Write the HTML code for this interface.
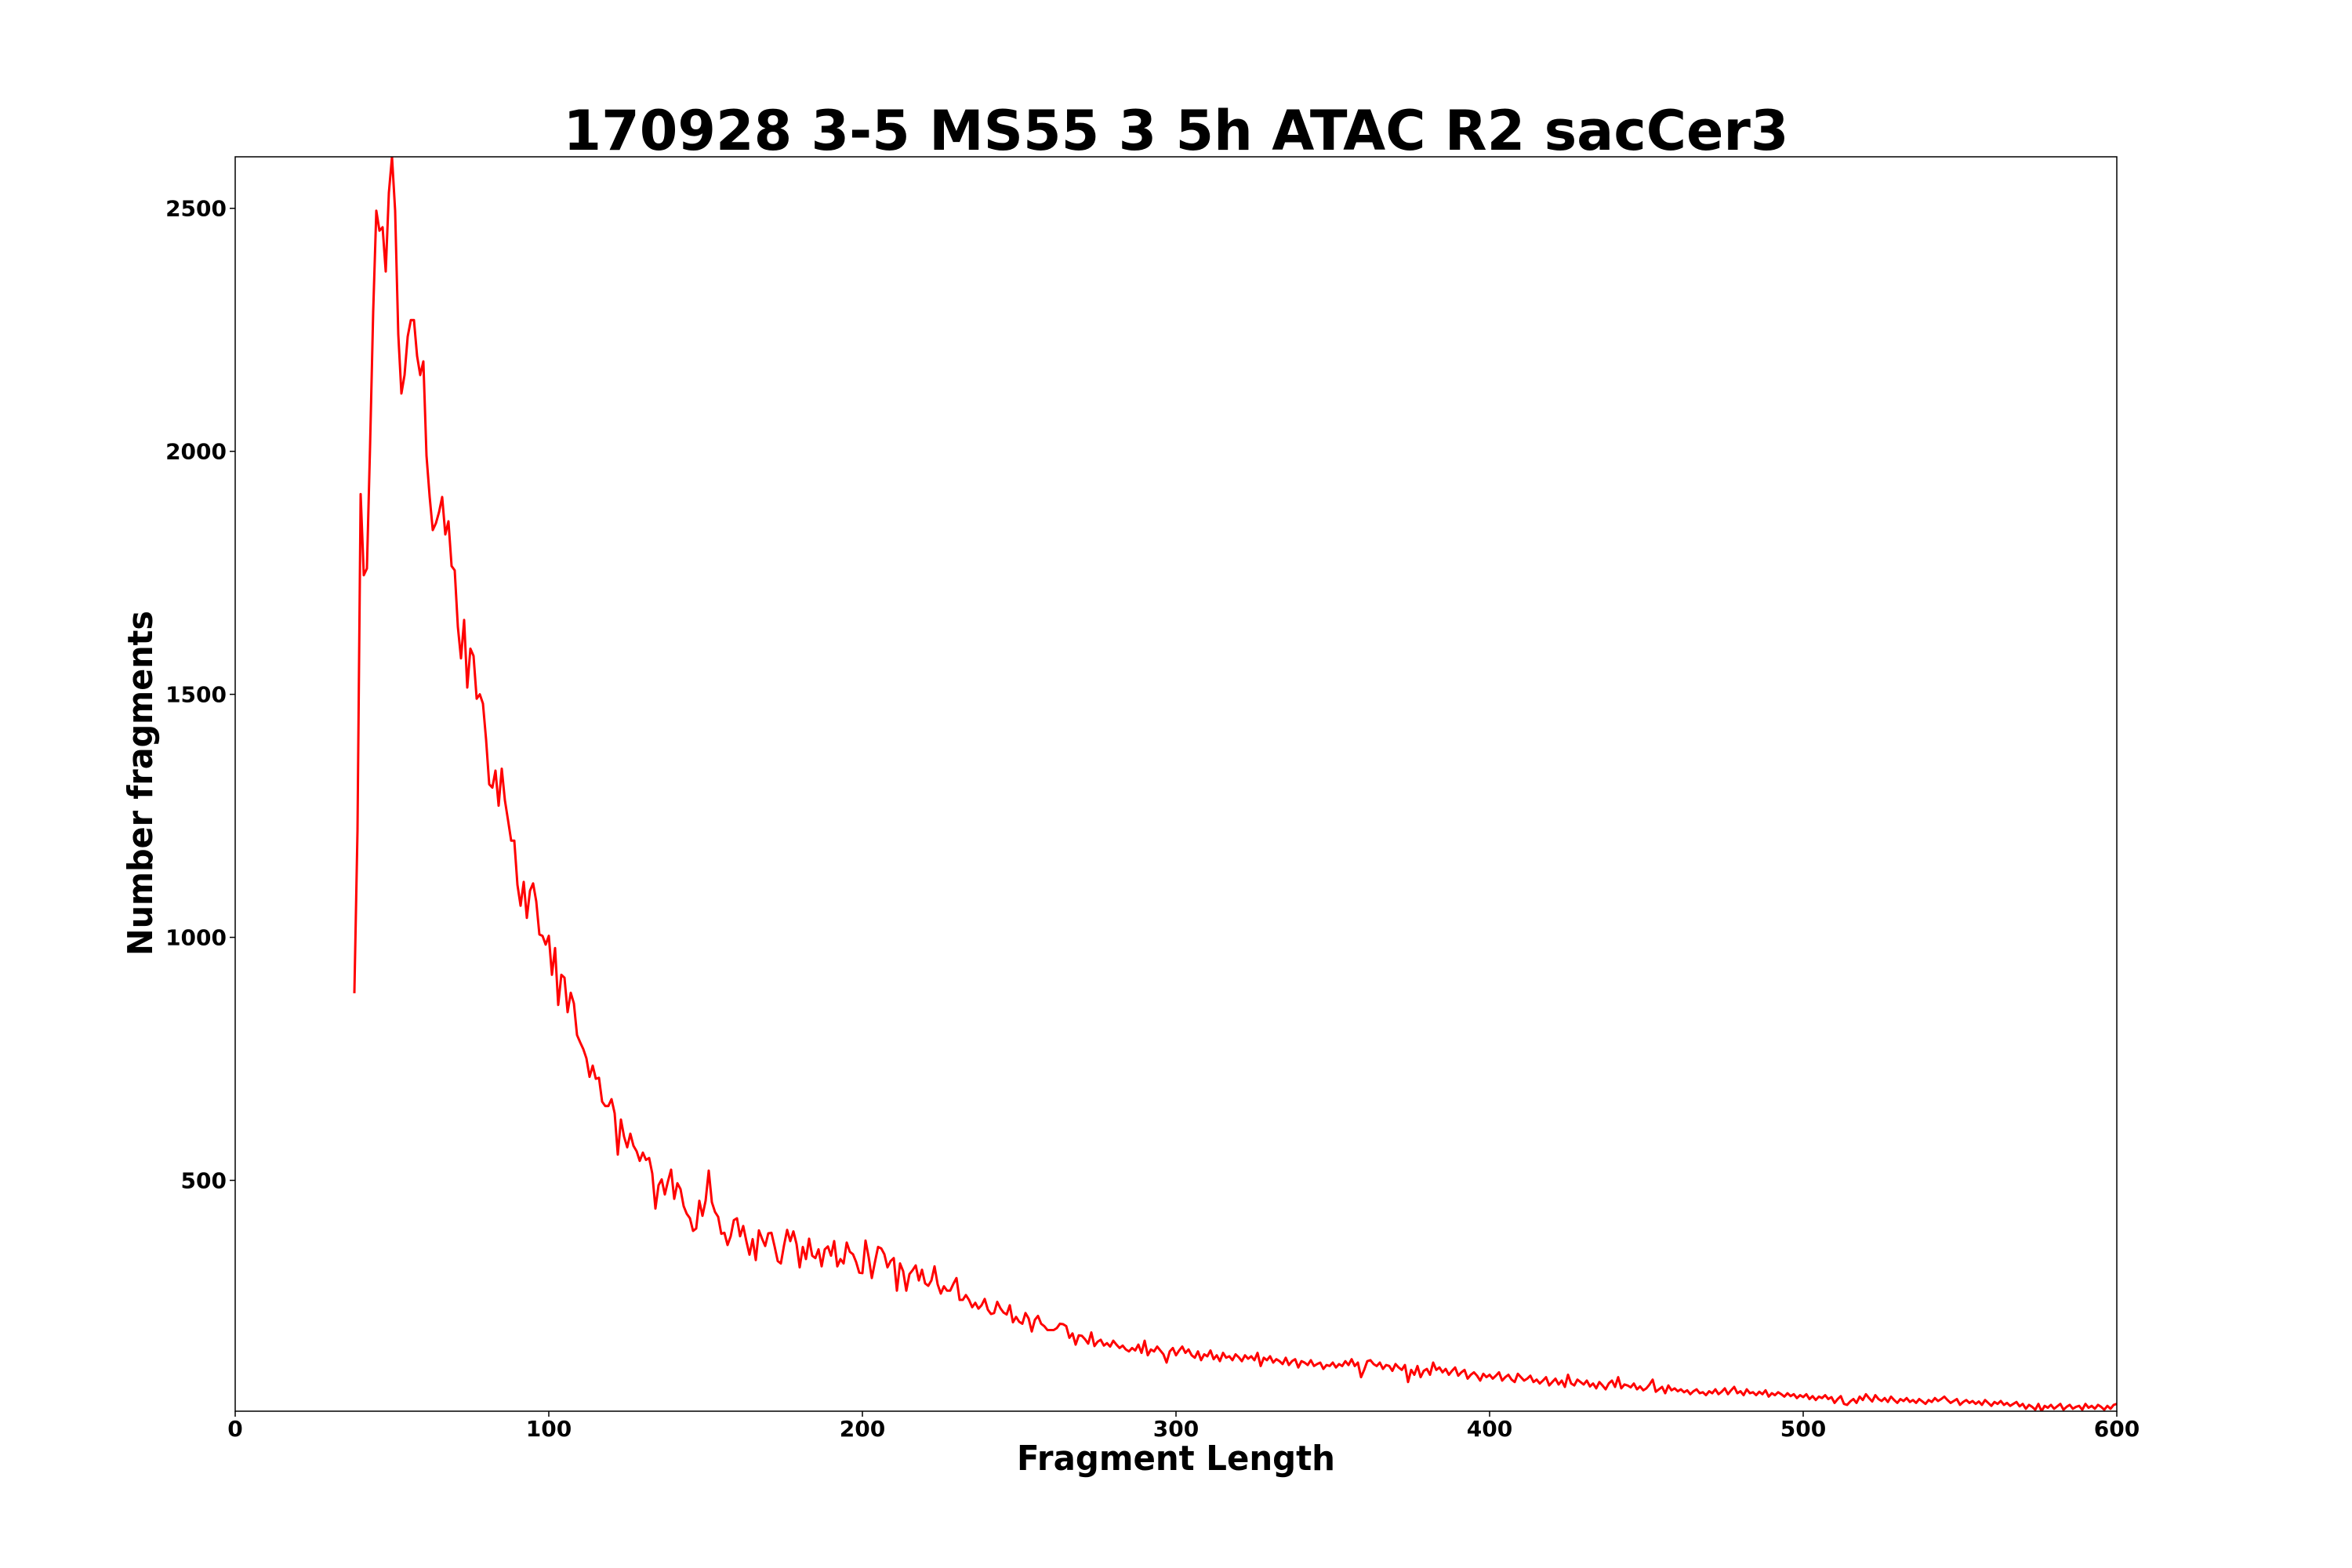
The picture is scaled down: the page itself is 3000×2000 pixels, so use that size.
<!DOCTYPE html>
<html>
<head>
<meta charset="utf-8">
<style>
html,body{margin:0;padding:0;background:#fff;}
svg{display:block;}
text{font-family:"DejaVu Sans","Liberation Sans",sans-serif;font-weight:bold;fill:#000;}
</style>
</head>
<body>
<svg id="chart" width="3000" height="2000" viewBox="0 0 3000 2000" xmlns="http://www.w3.org/2000/svg">
  <rect x="0" y="0" width="3000" height="2000" fill="#fff"/>
  <text x="1500" y="191" font-size="70" text-anchor="middle" textLength="1563" lengthAdjust="spacingAndGlyphs">170928 3-5 MS55 3 5h ATAC R2 sacCer3</text>
  <text x="1500" y="1875" font-size="44" text-anchor="middle" textLength="406" lengthAdjust="spacingAndGlyphs">Fragment Length</text>
  <text transform="translate(194,999) rotate(-90)" x="0" y="0" font-size="44" text-anchor="middle" textLength="440" lengthAdjust="spacingAndGlyphs">Number fragments</text>
  <g id="plot"></g>
</svg>
<script>
const startLength = 38;
const xTicks = [0, 100, 200, 300, 400, 500, 600];
const yTicks = [500, 1000, 1500, 2000, 2500];
const xDomain = [0, 600];
const yDomain = [25, 2606];
const countsPeak = [885,1220,1912,1745,1759,2009,2287,2495,2454,2461,2370,2532,2606,2495,2241,2119,2157,2236,2270,2270,2196,2157,2185,1991,1907,1838,1852,1875,1906,1829,1856,1764,1755,1639,1574,1653,1514,1594,1579,1491,1500,1481,1407,1315,1308,1343,1271,1347,1282,1241,1199,1199,1108,1065,1114,1040,1096,1111,1074,1006,1003,985,1003,923,978,861,923,917,846,886,864,799,784,770];
const countsMid = [751,713,736,709,711,662,653,653,667,638,553,625,590,568,596,571,560,540,557,542,546,514,442,490,502,471,498,522,462,494,482,447,431,422,396,401,458,427,458,520,455,435,425,390,392,367,385,418,422,385,406,375,347,379,336,397,380,365,391,392,364,334,329,366,398,375,395,369,321,363,338,380,345,340,358,323,358,364,345,375,323,338,329,372,353,348,332,310,309,376,342,299,332,363,360,348,321,334,340,273,329,313,273,307,315,325,294,316,288,283,294,323,286,267,282,273,273,287,299,254,254,264,254,239,248,236,243,256,234,225,227,250,237,228,224,243,208,219,209,205,227,216,189,213,221,205,200,192,192,192,196,205,204,200,176,185,162,181,180,173,164,187,159];
const countsTail = [168,172,160,165,158,170,162,155,160,152,
148,155,150,162,145,170,140,152,148,158,
150,142,125,148,155,140,150,158,145,152,
140,135,148,130,142,138,150,132,140,128,
145,135,138,130,142,136,128,140,133,138,
130,145,118,135,130,138,125,132,128,122,
135,120,128,132,115,128,125,120,130,118,
122,125,112,120,118,125,115,122,118,128,
120,132,118,125,95,110,128,130,122,118,
125,112,120,118,108,122,115,110,120,85,
110,100,118,95,108,112,100,125,110,115,
105,112,100,108,115,98,105,110,92,100,
105,98,88,102,95,100,92,98,105,88,
95,100,90,85,102,95,88,92,98,85,
90,82,88,95,78,85,92,80,88,75,
100,82,78,90,85,80,88,76,82,72,
85,78,70,82,88,75,95,72,80,78,
74,82,70,76,68,72,80,90,65,70,
75,62,78,68,72,66,70,64,68,60,
66,70,62,64,58,66,62,70,60,65,
72,60,68,75,62,66,58,70,62,64,
58,65,60,68,55,62,58,64,60,55,
62,56,60,52,58,54,60,50,56,48,
55,52,58,50,54,42,50,56,40,38,
45,50,42,55,48,60,52,45,58,50,
46,52,44,55,48,42,50,46,52,44,
48,42,50,45,40,48,44,52,46,50,
55,48,42,46,50,38,44,48,42,46,
40,45,38,48,42,36,44,40,46,38,
42,36,40,44,35,40,30,38,34,28,
40,25,36,32,38,30,35,40,28,34,
38,30,34,36,28,40,32,36,30,38,
34,28,36,30,38,40];
const counts = countsPeak.concat(countsMid, countsTail);

const NS = 'http://www.w3.org/2000/svg';
const plot = document.getElementById('plot');
const AX = {left: 300, right: 2700, top: 200, bottom: 1800};
function xScale(v){ return AX.left + (v - xDomain[0]) / (xDomain[1] - xDomain[0]) * (AX.right - AX.left); }
function yScale(v){ return AX.bottom - (v - yDomain[0]) / (yDomain[1] - yDomain[0]) * (AX.bottom - AX.top); }
function mk(tag, attrs){ const e = document.createElementNS(NS, tag); for (const k in attrs) e.setAttribute(k, attrs[k]); return e; }

const clip = mk('clipPath', {id: 'clipArea'});
clip.appendChild(mk('rect', {x: AX.left, y: AX.top, width: AX.right - AX.left, height: AX.bottom - AX.top}));
plot.appendChild(clip);

let d = '';
counts.forEach((c, i) => {
  const x = xScale(startLength + i), y = yScale(c);
  d += (i === 0 ? 'M' : 'L') + x.toFixed(2) + ',' + y.toFixed(2);
});
const line = mk('path', {d: d, fill: 'none', stroke: '#ff0000', 'stroke-width': 3, 'stroke-linejoin': 'round', 'clip-path': 'url(#clipArea)'});


plot.appendChild(line);

const frame = mk('rect', {x: AX.left, y: AX.top, width: AX.right - AX.left, height: AX.bottom - AX.top, fill: 'none', stroke: '#000', 'stroke-width': 1.5});


plot.appendChild(frame);

xTicks.forEach(t => {
  const x = xScale(t);
  const tk = mk('line', {x1: x, x2: x, y1: AX.bottom, y2: AX.bottom + 7, stroke: '#000', 'stroke-width': 1.5});
  
  
  plot.appendChild(tk);
  const lb = mk('text', {x: x, y: 1832, 'font-size': 28, 'text-anchor': 'middle'});
  lb.textContent = String(t);
  
  
  plot.appendChild(lb);
});
yTicks.forEach(t => {
  const y = yScale(t);
  const tk = mk('line', {x1: AX.left - 7, x2: AX.left, y1: y, y2: y, stroke: '#000', 'stroke-width': 1.5});
  
  
  plot.appendChild(tk);
  const lb = mk('text', {x: 289, y: y + 10, 'font-size': 28, 'text-anchor': 'end'});
  lb.textContent = String(t);
  
  
  plot.appendChild(lb);
});
</script>
</body>
</html>
